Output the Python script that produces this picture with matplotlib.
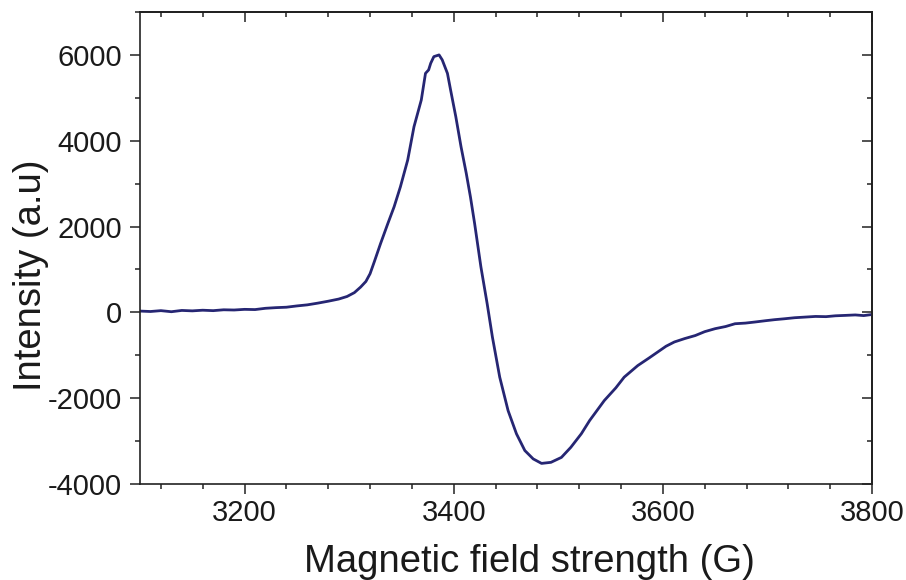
import matplotlib
matplotlib.use("Agg")
import matplotlib.pyplot as plt
from matplotlib.ticker import MultipleLocator, FixedLocator

plt.rcParams['font.family'] = ['Liberation Sans', 'DejaVu Sans']
plt.rcParams['axes.unicode_minus'] = False

# Data (field in G, intensity in a.u.)
field = [3100, 3110, 3120, 3130, 3140, 3150, 3160, 3170, 3180, 3190,
         3200, 3210, 3220, 3230, 3240, 3250, 3260, 3270, 3280, 3290,
         3298, 3305, 3311, 3316, 3320, 3324, 3330, 3337, 3343, 3349, 3356,
         3362, 3369, 3373, 3376, 3378, 3381, 3386, 3389, 3394, 3397,
         3402, 3407, 3412, 3416, 3420, 3426, 3432, 3437, 3444, 3452,
         3460, 3468, 3476, 3484, 3493, 3503, 3512, 3522, 3530, 3544,
         3555, 3563, 3576, 3587, 3595, 3603, 3611, 3621, 3631, 3640,
         3650, 3660, 3669, 3679, 3688, 3698, 3707, 3716, 3726, 3736,
         3746, 3756, 3765, 3775, 3784, 3792, 3800]
intensity = [30, 20, 40, 15, 45, 35, 50, 40, 60, 55,
             70, 65, 95, 110, 120, 150, 175, 215, 260, 310,
             370, 460, 590, 720, 900, 1175, 1600, 2070, 2460, 2925, 3550,
             4325, 4950, 5570, 5650, 5805, 5960, 6000, 5885, 5570, 5185,
             4560, 3860, 3240, 2690, 2070, 1060, 200, -575, -1510, -2290,
             -2830, -3220, -3415, -3520, -3495, -3380, -3145, -2830, -2520, -2055,
             -1760, -1510, -1240, -1060, -925, -790, -690, -610, -540, -450,
             -380, -330, -265, -250, -225, -195, -170, -150, -125, -110,
             -95, -100, -80, -70, -60, -75, -50]

x_major = [3200, 3400, 3600, 3800]
y_major = [-4000, -2000, 0, 2000, 4000, 6000]
x_label = "Magnetic field strength (G)"
y_label = "Intensity (a.u)"

W, H = 906, 580
fig = plt.figure(figsize=(W / 100, H / 100), dpi=100)
ax = fig.add_axes([140 / W, 1 - 484 / H, (872 - 140) / W, (484 - 12) / H])

ax.plot(field, intensity, color='#262673', lw=2.0)

ax.set_xlim(3100, 3800)
ax.set_ylim(-4000, 7000)
ax.xaxis.set_major_locator(FixedLocator(x_major))
ax.xaxis.set_minor_locator(MultipleLocator(40))
ax.yaxis.set_major_locator(FixedLocator(y_major))
ax.yaxis.set_minor_locator(MultipleLocator(1000))

for s in ax.spines.values():
    s.set_linewidth(1.2)
    s.set_color('#222222')

ax.tick_params(which='both', direction='out', top=False, right=False,
               color='#222222', width=1.1, labelsize=21, labelcolor='#1a1a1a')
ax.tick_params(which='major', length=7)
ax.tick_params(which='minor', length=3.6)
ax.tick_params(axis='y', pad=6)
ax.tick_params(axis='x', pad=4)

top = ax.secondary_xaxis('top')
top.xaxis.set_major_locator(FixedLocator(x_major))
top.xaxis.set_minor_locator(MultipleLocator(40))
top.tick_params(which='both', direction='in', labeltop=False, color='#222222', width=1.1)
top.tick_params(which='major', length=7)
top.tick_params(which='minor', length=3.6)
top.spines['top'].set_linewidth(1.2)

right = ax.secondary_yaxis('right')
right.yaxis.set_major_locator(FixedLocator(y_major))
right.yaxis.set_minor_locator(MultipleLocator(1000))
right.tick_params(which='both', direction='in', labelright=False, color='#222222', width=1.1)
right.tick_params(which='major', length=7)
right.tick_params(which='minor', length=3.6)
right.spines['right'].set_linewidth(1.2)

fig.text(529.5 / W, 1 - 572 / H, x_label, fontsize=27.5, ha='center',
         va='baseline', color='#1a1a1a')
fig.text(41 / W, 1 - 275 / H, y_label, fontsize=27.5, ha='center',
         va='baseline', rotation=90, rotation_mode='anchor', color='#1a1a1a')

fig.savefig('out.png', dpi=100)
